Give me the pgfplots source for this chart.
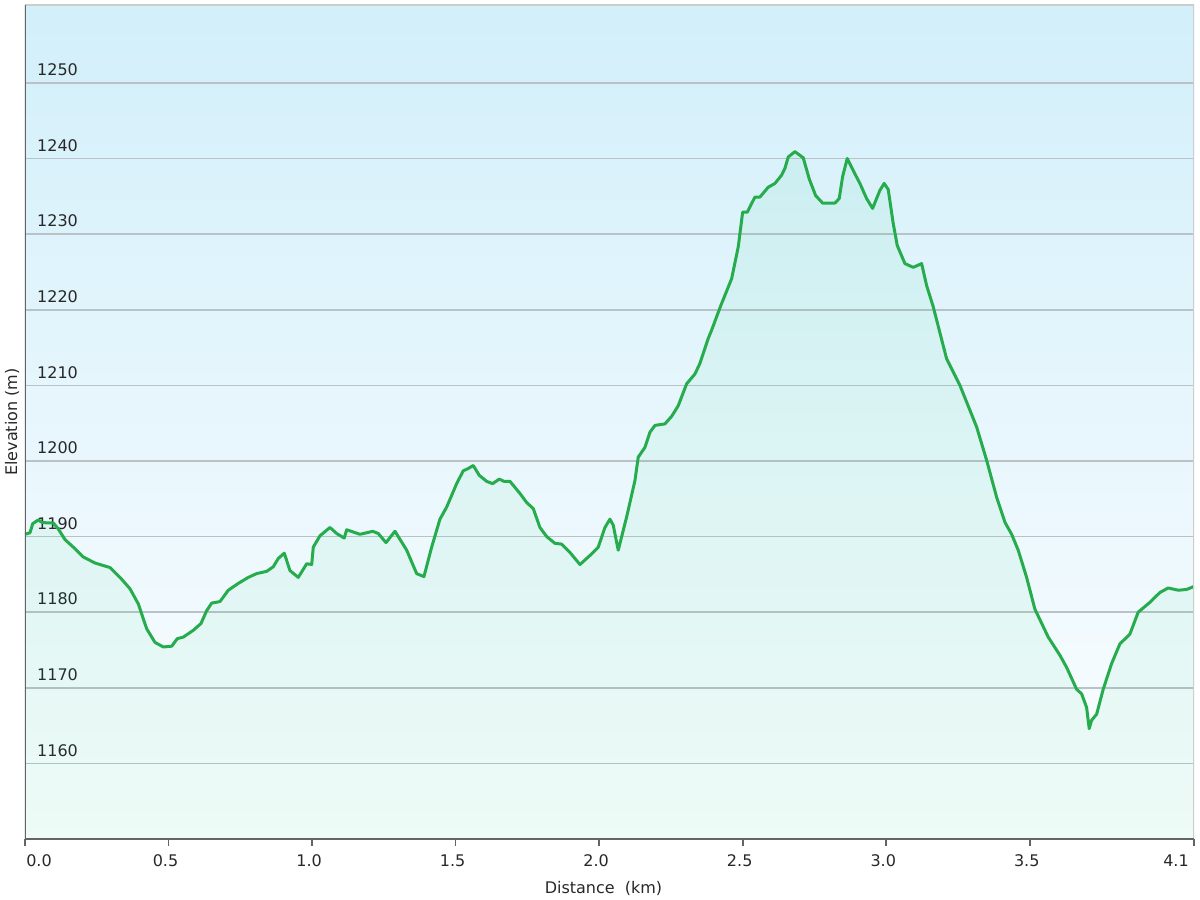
\documentclass[border=0pt]{standalone}
\usepackage{pgfplots}
\pgfplotsset{compat=1.18}
\usepackage{pgfplotstable}
\usepackage{fontspec}
\setmainfont{DejaVu Sans}
\definecolor{bgtop}{RGB}{210,239,250}
\definecolor{bgbot}{RGB}{252,254,255}
\definecolor{fillg}{RGB}{0,200,100}
\definecolor{lineg}{RGB}{38,172,76}
\definecolor{gridc}{RGB}{184,194,199}
\definecolor{axdark}{RGB}{100,100,100}
\definecolor{axlight}{RGB}{205,205,205}
\definecolor{txt}{RGB}{40,40,40}

\pgfplotstableread{
km elev
0.000 1190.3
0.0174 1190.5
0.0268 1191.7
0.0463 1192.2
0.0582 1191.9
0.0756 1191.8
0.0986 1191.8
0.1160 1191.0
0.1393 1189.6
0.1682 1188.6
0.2031 1187.3
0.2438 1186.5
0.2961 1185.9
0.3309 1184.6
0.3657 1183.1
0.3946 1181.1
0.4239 1177.8
0.4528 1176.0
0.4817 1175.4
0.5110 1175.5
0.5305 1176.5
0.5514 1176.7
0.5862 1177.6
0.6130 1178.5
0.6329 1180.2
0.6503 1181.2
0.6792 1181.4
0.7081 1182.9
0.7429 1183.8
0.7778 1184.6
0.8070 1185.1
0.8419 1185.4
0.8648 1186.0
0.8822 1187.1
0.9031 1187.8
0.9230 1185.5
0.9519 1184.6
0.9812 1186.4
0.9986 1186.3
1.0042 1188.6
1.0275 1190.1
1.0623 1191.2
1.0857 1190.4
1.1121 1189.8
1.1205 1190.9
1.1435 1190.6
1.1668 1190.3
1.1901 1190.5
1.2110 1190.7
1.2306 1190.4
1.2574 1189.2
1.2887 1190.7
1.3295 1188.2
1.3643 1185.1
1.3897 1184.7
1.4165 1188.6
1.4454 1192.3
1.4688 1193.9
1.5036 1197.0
1.5266 1198.7
1.5440 1199.0
1.5614 1199.4
1.5823 1198.1
1.6081 1197.3
1.6290 1197.0
1.6520 1197.6
1.6684 1197.3
1.6893 1197.3
1.7241 1195.7
1.7474 1194.5
1.7704 1193.7
1.7937 1191.2
1.8171 1190.0
1.8460 1189.1
1.8693 1189.0
1.8982 1187.9
1.9331 1186.3
1.9679 1187.5
1.9968 1188.6
2.0201 1191.2
2.0376 1192.3
2.0490 1191.5
2.0665 1188.2
2.0957 1192.6
2.1246 1197.4
2.1361 1200.5
2.1595 1201.8
2.1769 1203.8
2.1943 1204.7
2.2291 1204.9
2.2525 1205.9
2.2754 1207.3
2.3047 1210.2
2.3336 1211.5
2.3510 1212.9
2.3799 1216.2
2.3918 1217.3
2.4242 1220.6
2.4614 1224.1
2.4844 1228.3
2.4998 1232.9
2.5158 1232.9
2.5426 1234.9
2.5600 1234.9
2.5889 1236.2
2.6123 1236.7
2.6356 1237.8
2.6471 1238.7
2.6586 1240.2
2.6819 1240.9
2.7108 1240.1
2.7317 1237.3
2.7540 1235.1
2.7784 1234.1
2.8212 1234.1
2.8362 1234.7
2.8480 1237.6
2.8641 1240.0
2.8850 1238.4
2.9083 1236.7
2.9316 1234.7
2.9525 1233.4
2.9780 1235.8
2.9929 1236.7
3.0069 1235.9
3.0243 1231.4
3.0382 1228.5
3.0650 1226.1
3.0940 1225.6
3.1232 1226.1
3.1406 1223.2
3.1636 1220.4
3.2103 1213.5
3.2566 1210.0
3.3148 1204.5
3.3496 1200.1
3.3845 1195.2
3.4133 1191.9
3.4367 1190.3
3.4597 1188.2
3.4889 1184.6
3.5178 1180.4
3.5642 1176.7
3.6049 1174.3
3.6282 1172.7
3.6631 1169.8
3.6805 1169.2
3.6979 1167.4
3.7070 1164.6
3.7153 1165.7
3.7328 1166.5
3.7557 1169.8
3.7850 1173.2
3.8138 1175.8
3.8487 1177.1
3.8776 1180.0
3.9184 1181.3
3.9532 1182.6
3.9821 1183.2
4.0170 1182.9
4.0462 1183.0
4.0720 1183.4
}\elevdata

\begin{document}
\fontsize{8}{9.6}\selectfont
\begin{tikzpicture}
\useasboundingbox (-12.5pt,-30.5pt) rectangle (587.5pt,419.5pt);
\begin{axis}[
  at={(0,0)}, anchor=south west,
  scale only axis,
  width=584.5pt, height=417pt,
  xmin=0, xmax=4.072,
  ymin=1150, ymax=1260.3,
  axis background/.style={top color=bgtop, bottom color=bgbot, shading=axis},
  axis line style={draw=none},
  ymajorgrids,
  grid style={gridc, line width=0.8pt},
  ytick={1160,1170,1180,1190,1200,1210,1220,1230,1240,1250},
  yticklabels={1160,1170,1180,1190,1200,1210,1220,1230,1240,1250},
  ytick style={draw=none},
  yticklabel style={anchor=south west, inner sep=0pt, xshift=9.4pt, yshift=3.3pt, font=\fontsize{8}{9.6}\selectfont, text=txt},
  xtick={0,0.5,1,1.5,2,2.5,3,3.5,4.072},
  xticklabels={\hspace*{17pt}0.0,0.5,1.0,1.5,2.0,2.5,3.0,3.5,4.1\hspace*{15pt}},
  xtick pos=bottom,
  tick align=outside,
  major tick length=3.5pt,
  xtick style={axdark, line width=0.8pt},
  xticklabel style={anchor=north, inner sep=0pt, yshift=-4.1pt, xshift=-1.5pt, font=\fontsize{8}{9.6}\selectfont, text=txt},
  xlabel={Distance\ \ (km)},
  ylabel={Elevation (m)},
  xlabel style={at={(axis description cs:0.5,0)}, anchor=center, yshift=-24.5pt, xshift=-3pt, font=\fontsize{8}{9.6}\selectfont, text=txt},
  ylabel style={at={(axis description cs:-0.0111,0.5)}, anchor=center, font=\fontsize{8}{9.6}\selectfont, text=txt},
]
\addplot[draw=none, fill=fillg, fill opacity=0.055] table[x=km, y=elev] {\elevdata} \closedcycle;
\addplot[lineg, line width=1.5pt, line join=round, no markers] table[x=km, y=elev] {\elevdata};
\draw[axlight, line width=0.8pt] (rel axis cs:0,1) -- (rel axis cs:1,1) -- (rel axis cs:1,0);
\draw[axdark, line width=1pt] (rel axis cs:0,1) -- (rel axis cs:0,0) -- (rel axis cs:1,0);
\end{axis}
\end{tikzpicture}
\end{document}
